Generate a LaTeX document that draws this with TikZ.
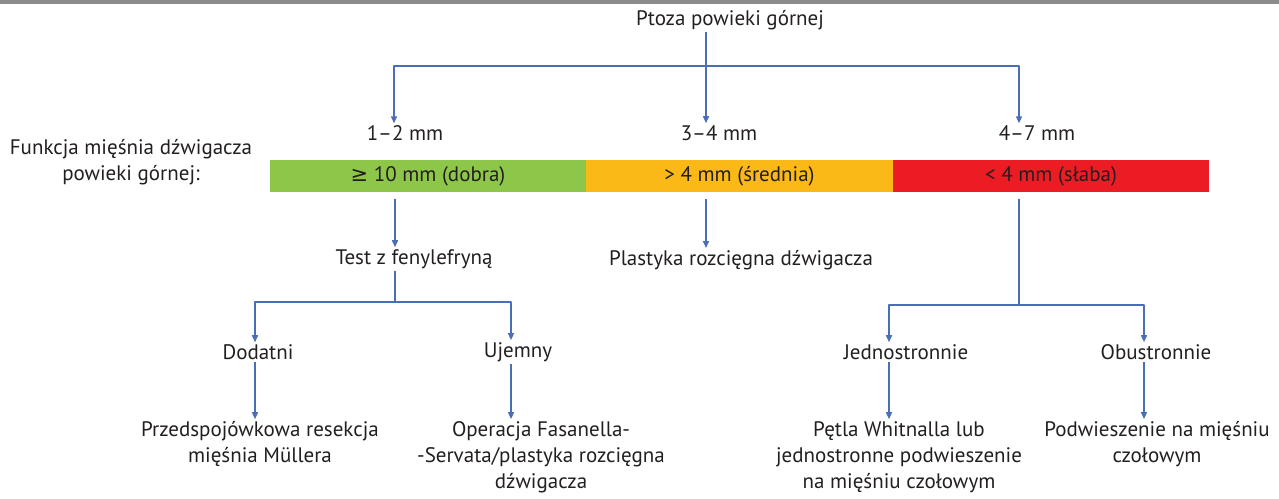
\documentclass[tikz,border=0pt]{standalone}
\usepackage{fontspec}
\setmainfont{PT Sans}
\newfontfamily\symfont{DejaVu Sans}
\usetikzlibrary{arrows.meta}
\definecolor{niebieski}{HTML}{4A6FB5}
\definecolor{tekst}{HTML}{231F20}
\definecolor{zielony}{HTML}{8DC649}
\definecolor{pomaranczowy}{HTML}{FBB917}
\definecolor{czerwony}{HTML}{EC1C24}
\definecolor{szary}{HTML}{8A8B8D}
\begin{document}
\begin{tikzpicture}[x=1pt, y=-1pt, font=\fontsize{21}{26}\selectfont, line join=round, >={Triangle[length=7pt,width=6pt]},
	etykieta/.style={text=tekst, align=center, inner sep=2pt},
	pasek/.style={text=tekst, inner sep=0pt, minimum height=32pt},
	polacz/.style={draw=niebieski, line width=1.5pt},
	strzalka/.style={polacz, ->}]
	\def\xa{394} \def\xb{706} \def\xc{1019}
	\useasboundingbox (0,0) rectangle (1279,498);
	\fill[szary] (0,0) rectangle (1279,4);
	% naglowek
	\node[etykieta] (ptoza) at (730,20) {Ptoza powieki górnej};
	\node[etykieta] (mm12) at (405,133) {1–2 mm};
	\node[etykieta] (mm34) at (719,133) {3–4 mm};
	\node[etykieta] (mm47) at (1037,133) {4–7 mm};
	\node[etykieta] (funkcja) at (131,162) {Funkcja mięśnia dźwigacza\\powieki górnej:};
	% pasek funkcji
	\node[pasek, fill=zielony, minimum width=316pt] (dobra) at (428,176) {{\symfont ≥} 10 mm (dobra)};
	\node[pasek, fill=pomaranczowy, minimum width=307pt] (srednia) at (739.5,176) {> 4 mm (średnia)};
	\node[pasek, fill=czerwony, minimum width=316pt] (slaba) at (1051,176) {< 4 mm (słaba)};
	% galezie
	\node[etykieta] (test) at (414,259) {Test z fenylefryną};
	\node[etykieta] (plastyka) at (741,260) {Plastyka rozcięgna dźwigacza};
	\node[etykieta] (dodatni) at (258,352) {Dodatni};
	\node[etykieta] (ujemny) at (518,352) {Ujemny};
	\node[etykieta] (jedn) at (906,352) {Jednostronnie};
	\node[etykieta] (obu) at (1156,352) {Obustronnie};
	\node[etykieta] (muller) at (260,444) {Przedspojówkowa resekcja\\mięśnia Müllera};
	\node[etykieta] (fasanella) at (541,457) {Operacja Fasanella-\\-Servata/plastyka rozcięgna\\dźwigacza};
	\node[etykieta] (whitnall) at (899,457) {Pętla Whitnalla lub\\jednostronne podwieszenie\\na mięśniu czołowym};
	\node[etykieta] (czolowy) at (1157,444) {Podwieszenie na mięśniu\\czołowym};
	% polaczenia
	\coordinate (rozg) at (\xb,66);
	\coordinate (rozgtest) at (395,302);
	\coordinate (rozgslaba) at (\xc,305);
	\draw[strzalka] (ptoza.south -| \xb,0) -- (mm34.north -| \xb,0);
	\draw[strzalka] (rozg) -| (mm12.north -| \xa,0);
	\draw[strzalka] (rozg) -| (mm47.north -| \xc,0);
	\draw[strzalka, shorten <=7pt] (dobra.south -| 395,0) -- (test.north -| 395,0);
	\draw[strzalka, shorten <=7pt] (srednia.south -| \xb,0) -- (plastyka.north -| \xb,0);
	\draw[polacz] (test.south -| rozgtest) -- (rozgtest);
	\draw[strzalka] (rozgtest) -| (dodatni.north -| 255,0);
	\draw[strzalka] (rozgtest) -| (ujemny.north -| 511,0);
	\draw[polacz, shorten <=7pt] (slaba.south -| rozgslaba) -- (rozgslaba);
	\draw[strzalka] (rozgslaba) -| (jedn.north -| 889,0);
	\draw[strzalka] (rozgslaba) -| (obu.north -| 1144,0);
	\draw[strzalka] (dodatni.south -| 255,0) -- (muller.north -| 255,0);
	\draw[strzalka] (ujemny.south -| 511,0) -- (fasanella.north -| 511,0);
	\draw[strzalka] (jedn.south -| 889,0) -- (whitnall.north -| 889,0);
	\draw[strzalka] (obu.south -| 1144,0) -- (czolowy.north -| 1144,0);
\end{tikzpicture}
\end{document}
